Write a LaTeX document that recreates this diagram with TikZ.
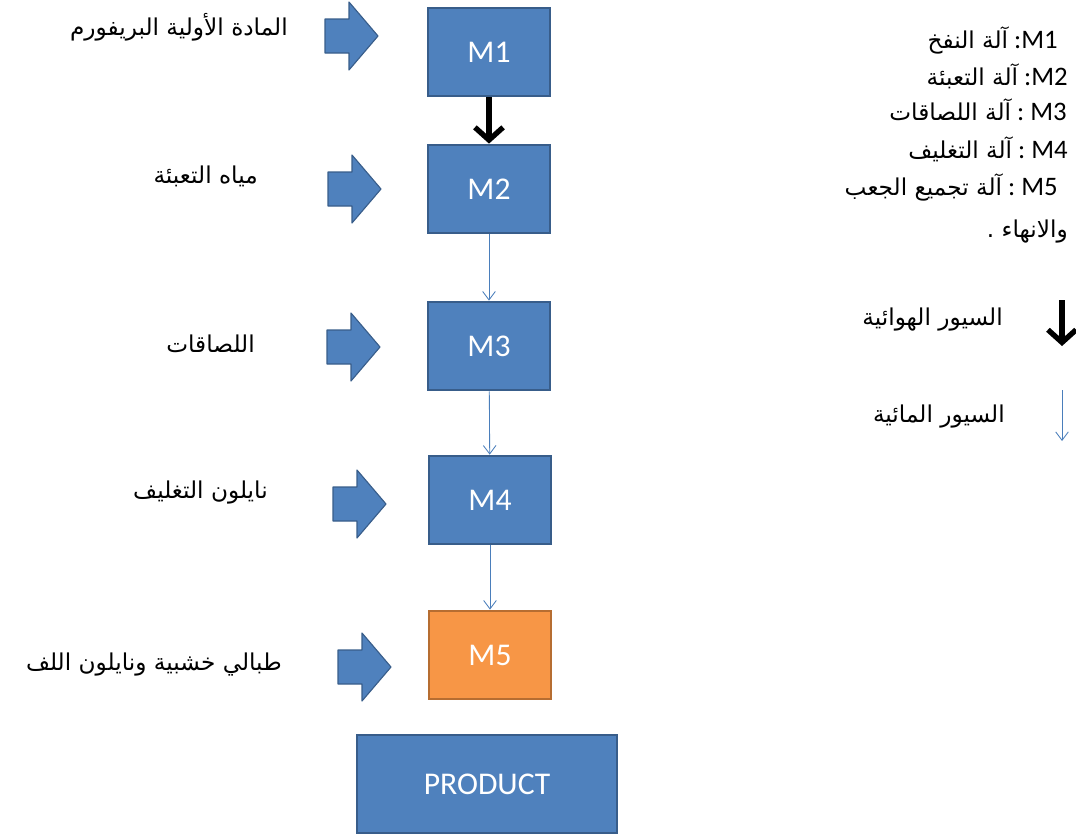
\documentclass[tikz,border=0pt]{standalone}
\usepackage{fontspec}
\setmainfont{Carlito}
\newfontfamily\arabicfont[Script=Arabic]{DejaVu Sans}
\TeXXeTstate=1
\usetikzlibrary{arrows.meta}

\definecolor{boxblue}{HTML}{4F81BD}
\definecolor{boxedge}{HTML}{385D8A}
\definecolor{boxorange}{HTML}{F79646}
\definecolor{orangeedge}{HTML}{B66D31}
\definecolor{beltblue}{HTML}{4A7EBB}

% right-to-left Arabic text
\newcommand{\artext}[1]{{\arabicfont\fontsize{16.5}{19}\selectfont\beginR #1\endR}}

\begin{document}
\begin{tikzpicture}[x=0.025cm,y=-0.025cm,
  machine/.style={draw=boxedge,fill=boxblue,line width=1.4pt,text=white,
    minimum width=3.05cm,minimum height=2.22cm,font=\fontsize{22.5}{26}\selectfont},
  feed/.style={fill=boxblue,draw=boxedge,line width=0.8pt,line join=round},
  label/.style={anchor=base east,inner sep=0pt},
  legend/.style={anchor=base east,inner sep=0pt,font=\fontsize{19}{22}\selectfont},
  airbelt/.style={-{Straight Barb[length=9pt,width=20pt]},line width=3.8pt},
  waterbelt/.style={-{Straight Barb[length=6pt,width=9pt]},draw=beltblue,line width=0.6pt}]
\useasboundingbox (0,0) rectangle (1076,836);

% machines
\node[machine] (M1) at (489,52) {M1};
\node[machine] (M2) at (489,189) {M2};
\node[machine] (M3) at (489,346) {M3};
\node[machine] (M4) at (490,500) {M4};
\node[machine,fill=boxorange,draw=orangeedge] (M5) at (490,655) {M5};
\node[machine,minimum width=6.5cm,minimum height=2.45cm] (P) at (487,784) {PRODUCT};

% belts
\draw[airbelt] (M1) -- (M2);
\foreach \a/\b in {M2/M3,M3/M4,M4/M5}{ \draw[waterbelt] (\a) -- (\b); }

% inputs fed into each machine
\foreach \i/\x/\y in {1/325/36,2/328/189,3/327/347,4/333/504,5/338/667}{
  \draw[feed,shift={(\x,\y)}] (0,-17) -- (24,-17) -- (24,-34) -- (53,0)
    -- (24,34) -- (24,17) -- (0,17) -- cycle;
}
\node[label] (in1) at (288,35) {\artext{المادة الأولية البريفورم}};
\node[label] (in2) at (258,183) {\artext{مياه التعبئة}};
\node[label] (in3) at (255,352) {\artext{اللصاقات}};
\node[label] (in4) at (268,498) {\artext{نايلون التغليف}};
\node[label] (in5) at (282,670) {\artext{طبالي خشبية  ونايلون اللف}};

% key
\node[legend] (k1) at (1058,48) {\artext{آلة النفخ}\ :M1};
\node[legend] (k2) at (1068,85) {\artext{آلة التعبئة}\ :M2};
\node[legend] (k3) at (1067,120) {\artext{آلة اللصاقات}\ :\ M3};
\node[legend] (k4) at (1068,158) {\artext{آلة التغليف}\ :\ M4};
\node[legend] (k5) at (1058,195) {\artext{آلة تجميع الجعب}\ :\ M5};
\node[legend] (k6) at (1068,237) {\artext{والانهاء .}};

\coordinate (a1) at (1062,300);
\coordinate (a2) at (1062,346);
\coordinate (w1) at (1062,390);
\coordinate (w2) at (1062,441);
\draw[airbelt] (a1) -- (a2);
\draw[waterbelt] (w1) -- (w2);
\node[label] (ka) at (1003,325) {\artext{السيور الهوائية}};
\node[label] (kw) at (1005,422) {\artext{السيور المائية}};
\end{tikzpicture}
\end{document}
